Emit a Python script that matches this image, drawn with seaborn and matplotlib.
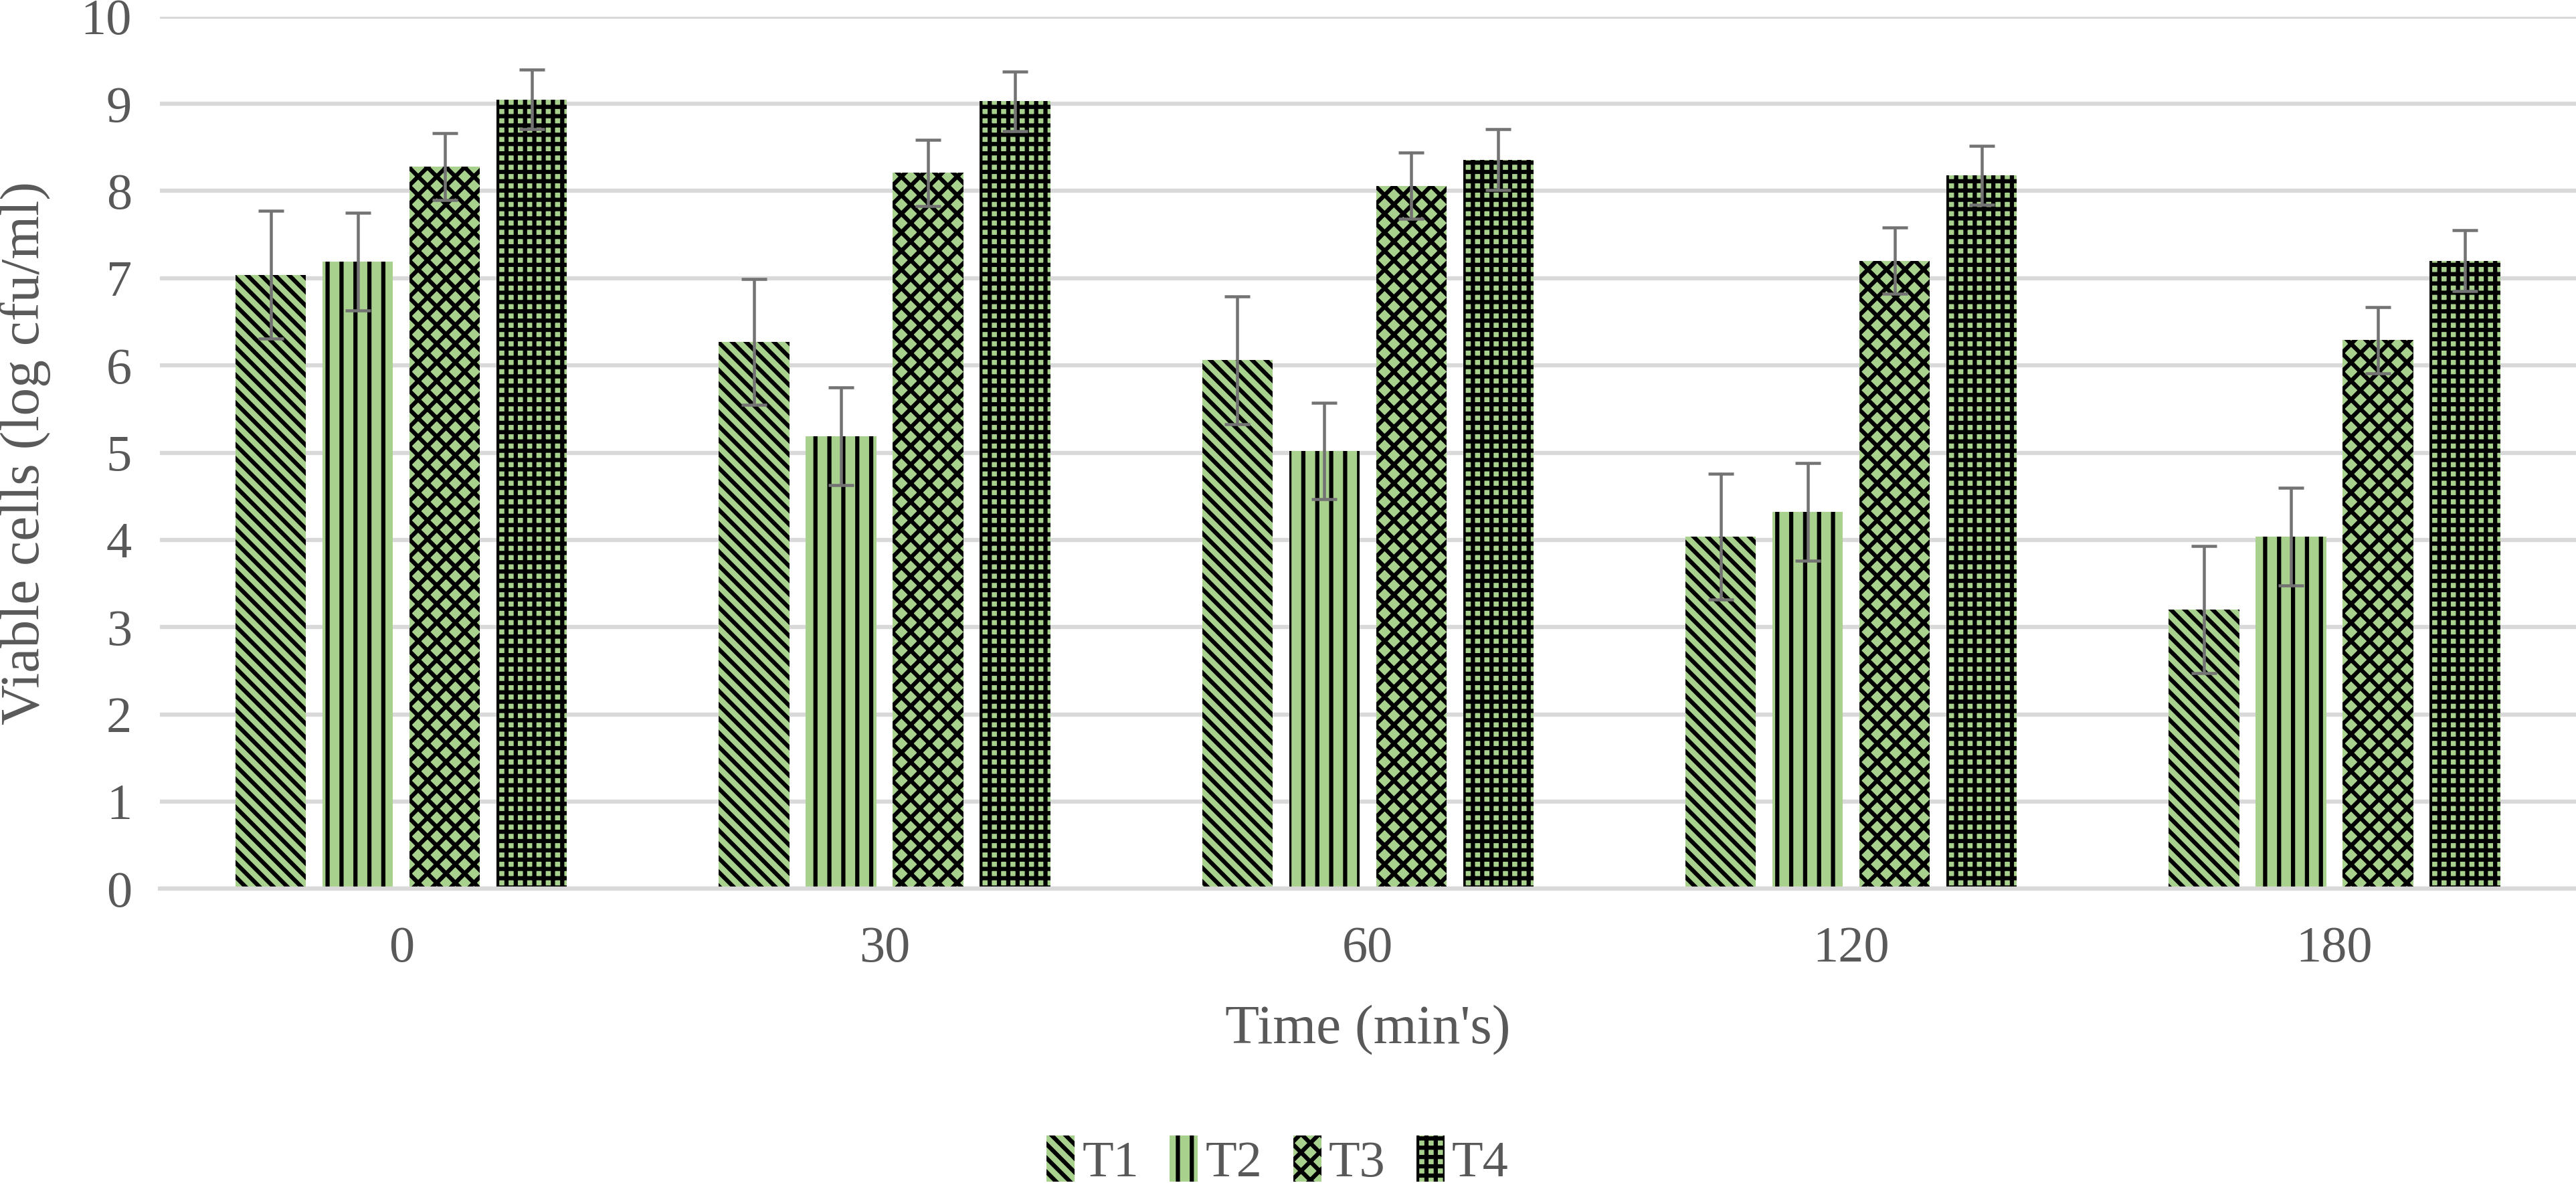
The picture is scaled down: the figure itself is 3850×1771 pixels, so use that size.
import matplotlib
matplotlib.use("Agg")
import matplotlib.pyplot as plt
import seaborn as sns
import pandas as pd
import numpy as np

# Data
times = ['0', '30', '60', '120', '180']
treatments = ['T1', 'T2', 'T3', 'T4']
t1 = [7.04, 6.27, 6.06, 4.04, 3.20]
t2 = [7.19, 5.19, 5.02, 4.32, 4.04]
t3 = [8.28, 8.21, 8.06, 7.20, 6.29]
t4 = [9.05, 9.03, 8.36, 8.18, 7.20]
t1_err = [0.73, 0.72, 0.73, 0.72, 0.73]
t2_err = [0.56, 0.56, 0.55, 0.56, 0.56]
t3_err = [0.38, 0.38, 0.38, 0.38, 0.38]
t4_err = [0.34, 0.34, 0.35, 0.34, 0.35]

values = [t1, t2, t3, t4]
errors = [t1_err, t2_err, t3_err, t4_err]

df = pd.DataFrame({
    'time': times * 4,
    'treatment': np.repeat(treatments, len(times)),
    'value': np.concatenate(values),
})

green = '#a9d18e'
grid_col = '#d9d9d9'
text_col = '#595959'
err_col = '#737373'
hatches = ['\\\\\\\\', '||', 'xxx', '+++']

sns.set_style('white')
plt.rcParams['font.family'] = ['Liberation Serif', 'DejaVu Serif']
plt.rcParams['hatch.linewidth'] = 1.8

fig = plt.figure(figsize=(15.4, 7.084), dpi=250)
ax = fig.add_axes([0.062, 0.250, 0.938, 0.736])

sns.barplot(data=df, x='time', y='value', hue='treatment', order=times,
            hue_order=treatments, palette=[green] * 4, saturation=1,
            width=0.72, gap=0.19, errorbar=None, ax=ax)

bar_conts = list(ax.containers)
for cont, h, err in zip(bar_conts, hatches, errors):
    xs = []
    ys = []
    for bar in cont:
        bar.set_hatch(h)
        bar.set_edgecolor('black')
        bar.set_linewidth(0)
        xs.append(bar.get_x() + bar.get_width() / 2)
        ys.append(bar.get_height())
    ax.errorbar(xs, ys, yerr=err, fmt='none', ecolor=err_col,
                elinewidth=1.3, capsize=5.5, capthick=1.3, zorder=5)

ax.set_ylim(0, 10)
ax.set_xlim(-0.5, 4.5)
ax.set_yticks(range(0, 11))
ax.yaxis.grid(True, color=grid_col, linewidth=1.8)
ax.set_axisbelow(True)
for s in ['top', 'right', 'left']:
    ax.spines[s].set_visible(False)
ax.spines['bottom'].set_color(grid_col)
ax.spines['bottom'].set_linewidth(1.8)
ax.tick_params(axis='both', length=0, labelsize=22, labelcolor=text_col)
ax.tick_params(axis='x', pad=16)
ax.tick_params(axis='y', pad=12)

ax.set_xlabel("Time (min's)", fontsize=24, color=text_col, labelpad=14)
ax.set_ylabel('Viable cells (log cfu/ml)', fontsize=24, color=text_col, labelpad=13)

if ax.get_legend() is not None:
    ax.get_legend().remove()
handles = [c.patches[0] for c in bar_conts]
fig.legend(handles, treatments, loc='center', bbox_to_anchor=(0.496, 0.02),
           ncol=4, frameon=False, fontsize=22, labelcolor=text_col,
           handlelength=0.55, handleheight=1.0, handletextpad=0.15,
           columnspacing=0.6)

fig.savefig('out.png', dpi=250)
